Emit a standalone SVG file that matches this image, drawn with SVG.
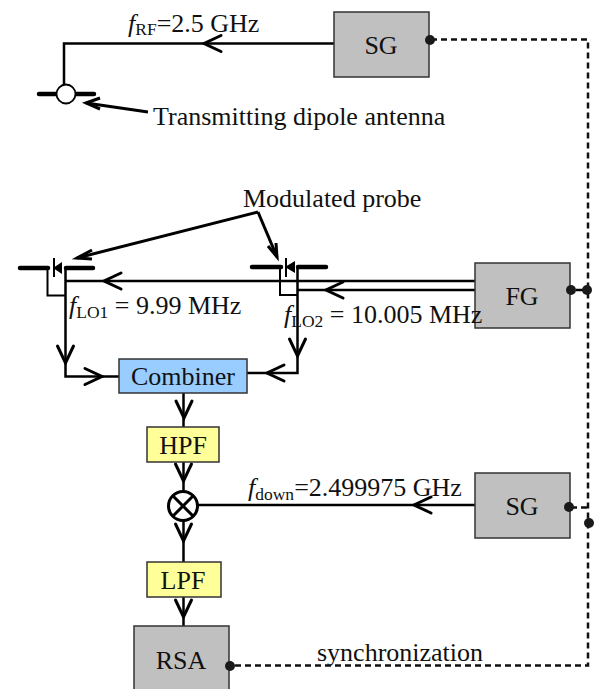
<svg xmlns="http://www.w3.org/2000/svg" width="603" height="689" viewBox="0 0 603 689">
<style>
text{font-family:"Liberation Serif","Times New Roman",serif;fill:#111}
.t{font-size:26px}
.s{font-size:17.500px}
.c{text-anchor:middle}
.w{fill:none;stroke:#000;stroke-width:2.500}
.th{fill:none;stroke:#000;stroke-width:3}
.thin{fill:none;stroke:#000;stroke-width:2}
.ant{fill:none;stroke:#000;stroke-width:4.500;stroke-linecap:round}
.d{fill:none;stroke:#111;stroke-width:2.500;stroke-dasharray:6 4}
.box{stroke:#333;stroke-width:1.500}
.g{fill:#c0c0c0}
.y{fill:#ffff99}
.b{fill:#99ccff}
.dot{fill:#1a1a1a}
</style>
<defs>
<path id="ah" d="M-17 -8 L0 0 L-17 8" fill="none" stroke="#000" stroke-width="3" stroke-linecap="round"/>
</defs>
<g id="connectors">
<path class="w" d="M334 43.500H64V85"/>
<use href="#ah" transform="translate(204 43.500) rotate(180)"/>
<path class="th" d="M148 112L86 103"/>
<path class="th" d="M100 98L86 103L100 109"/>
<path class="d" d="M431 39.500H588V665.500H232"/>
<path class="d" d="M571 507.500H588"/>
<path class="w" d="M475 281H65.500"/>
<path class="w" d="M475 290H297"/>
<path class="w" d="M576 290H584"/>
<use href="#ah" transform="translate(104 281) rotate(180)"/>
<use href="#ah" transform="translate(326 290) rotate(180)"/>
<path class="th" d="M258 212L277 257"/>
<path class="th" d="M268 246L277 257L276 243"/>
<path class="th" d="M258 212L77 258"/>
<path class="th" d="M92 250L77 258L92 259"/>
<path class="w" d="M65.500 268V376.500H119"/>
<use href="#ah" transform="translate(65.500 363) rotate(90)"/>
<use href="#ah" transform="translate(102 376.500)"/>
<path class="w" d="M297.500 268V373H247"/>
<use href="#ah" transform="translate(297.500 356) rotate(90)"/>
<use href="#ah" transform="translate(267 373) rotate(180)"/>
<path class="w" d="M183.500 393V427"/>
<use href="#ah" transform="translate(184 418) rotate(90)"/>
<path class="w" d="M183.500 462V491"/>
<use href="#ah" transform="translate(183.500 481) rotate(90)"/>
<path class="w" d="M183.500 521V562"/>
<use href="#ah" transform="translate(183.500 541) rotate(90)"/>
<path class="w" d="M183.500 597V626"/>
<use href="#ah" transform="translate(183.500 617) rotate(90)"/>
<path class="w" d="M198 505H475"/>
<use href="#ah" transform="translate(414 505) rotate(180)"/>
</g>
<g id="antenna-tx">
<path class="ant" d="M39 94H57M76 94H94"/>
<circle cx="66" cy="94" r="9.500" fill="#fff" stroke="#000" stroke-width="1.800"/>
</g>
<g id="probe-1">
<path class="ant" d="M20 268H48M66 268H93"/>
<path class="thin" d="M54 258V277"/>
<path d="M53 268L62 262V274Z" fill="#000"/>
<path class="thin" d="M47.500 268V295.500H65.500"/>
</g>
<g id="probe-2">
<path class="ant" d="M252 267H281M298 267H326"/>
<path class="thin" d="M286 258V277"/>
<path d="M285 267L295 261V273Z" fill="#000"/>
<path class="thin" d="M280 267V295H297"/>
</g>
<g id="sg-top"><rect class="box g" x="334" y="12" width="95" height="65"/><text class="t c" x="381" y="54">SG</text><circle class="dot" cx="430" cy="40" r="5"/></g>
<g id="fg"><rect class="box g" x="475" y="263" width="95" height="65"/><text class="t c" x="522" y="305">FG</text><circle class="dot" cx="571" cy="290" r="5"/><circle class="dot" cx="587" cy="290" r="5"/></g>
<g id="sg-bottom"><rect class="box g" x="475" y="473" width="95" height="65"/><text class="t c" x="522" y="515">SG</text><circle class="dot" cx="569" cy="507" r="5"/><circle class="dot" cx="589" cy="523" r="5"/></g>
<g id="combiner"><rect class="box b" x="119" y="359" width="128" height="34"/><text class="t c" x="183" y="385">Combiner</text></g>
<g id="hpf"><rect class="box y" x="147" y="427" width="72" height="35"/><text class="t c" x="183" y="454">HPF</text></g>
<g id="mixer"><circle cx="183" cy="506" r="14.500" fill="#fff" stroke="#000" stroke-width="3"/><path class="th" d="M173 496L193 516M193 496L173 516"/></g>
<g id="lpf"><rect class="box y" x="147" y="562" width="74" height="35"/><text class="t c" x="183" y="589">LPF</text></g>
<g id="rsa"><rect class="box g" x="134" y="626" width="95" height="70"/><text class="t c" x="181" y="669">RSA</text><circle class="dot" cx="230" cy="666" r="5"/></g>
<g id="labels">
<text class="t" x="128" y="32"><tspan font-style="italic">f</tspan><tspan class="s" dy="3">RF</tspan><tspan dy="-3">=2.5 GHz</tspan></text>
<text class="t" x="153" y="125">Transmitting dipole antenna</text>
<text class="t" x="243" y="207">Modulated probe</text>
<text class="t" x="69" y="314"><tspan font-style="italic">f</tspan><tspan class="s" dy="4">LO1</tspan><tspan dy="-4"> = 9.99 MHz</tspan></text>
<text class="t" x="284" y="323"><tspan font-style="italic">f</tspan><tspan class="s" dy="4">LO2</tspan><tspan dy="-4"> = 10.005 MHz</tspan></text>
<text class="t" x="248" y="496"><tspan font-style="italic">f</tspan><tspan class="s" dy="4">down</tspan><tspan dy="-4">=2.499975 GHz</tspan></text>
<text class="t" x="317" y="661">synchronization</text>
</g>
</svg>
